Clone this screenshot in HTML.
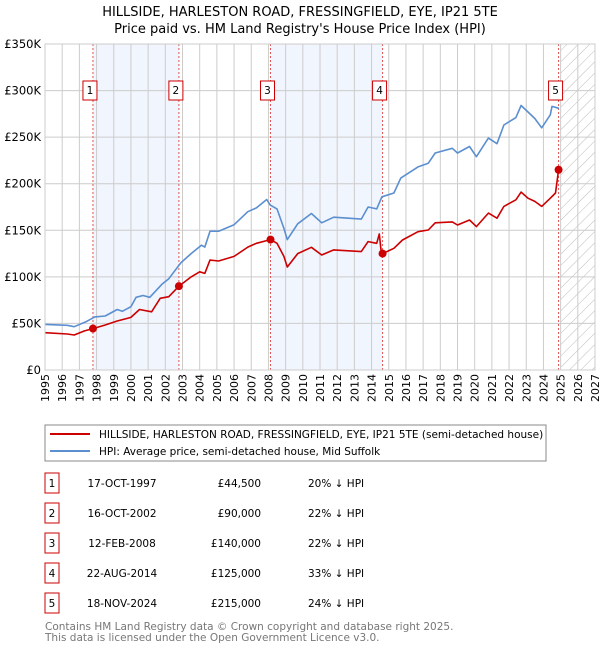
<!DOCTYPE html>
<html><head><meta charset="utf-8"><style>
body{margin:0;background:#fff;}
svg text{font-family:"DejaVu Sans","Liberation Sans",sans-serif;}
</style></head><body>
<svg id="c" width="600" height="650" xmlns="http://www.w3.org/2000/svg">
<defs><pattern id="hatch" width="8" height="8" patternUnits="userSpaceOnUse" patternTransform="rotate(45)"><line x1="0" y1="0" x2="0" y2="8" stroke="#bbb" stroke-width="1"/></pattern></defs>
<text x="300" y="16" text-anchor="middle" font-size="13">HILLSIDE, HARLESTON ROAD, FRESSINGFIELD, EYE, IP21 5TE</text>
<text x="300" y="33" text-anchor="middle" font-size="13">Price paid vs. HM Land Registry's House Price Index (HPI)</text>
<g id="plot"></g>
<g>
<rect x="45" y="425" width="501" height="36" fill="#fff" stroke="#888"/>
<line x1="50" y1="434" x2="90" y2="434" stroke="#cc0000" stroke-width="2"/>
<text x="99" y="438" font-size="10.5">HILLSIDE, HARLESTON ROAD, FRESSINGFIELD, EYE, IP21 5TE (semi-detached house)</text>
<line x1="50" y1="451" x2="90" y2="451" stroke="#5b8fd0" stroke-width="2"/>
<text x="99" y="455" font-size="10.5">HPI: Average price, semi-detached house, Mid Suffolk</text>
</g>
<g id="table"></g>
<text x="45" y="630" font-size="10.5" fill="#777">Contains HM Land Registry data © Crown copyright and database right 2025.</text>
<text x="45" y="641" font-size="10.5" fill="#777">This data is licensed under the Open Government Licence v3.0.</text>
</svg>
<script>
const hpiYears=[1995,1996.3,1996.7,1997.4,1997.9,1998.5,1999.2,1999.5,2000,2000.3,2000.7,2001.1,2001.8,2002.2,2002.9,2003.5,2004.1,2004.3,2004.6,2005.1,2006,2006.8,2007.3,2007.9,2008.1,2008.5,2008.9,2009.1,2009.7,2010.5,2011.1,2011.8,2013.4,2013.8,2014.3,2014.6,2015.3,2015.7,2016.7,2017.3,2017.7,2018.7,2019,2019.7,2020.1,2020.8,2021.3,2021.7,2022.4,2022.7,2023.1,2023.5,2023.9,2024.4,2024.5,2024.9];
const hpiValues=[49,48,46.5,52,57,58,65,63,68,78,80,78,92,98,115,125,134,132,149,149,156,170,174,183,177,173,152,140,157,168,158,164,162,175,173,186,190,206,218,222,233,238,233,240,229,249,243,263,271,284,277,270,260,274,283,281];
const priceYears=[1995,1996.3,1996.7,1997.3,1997.79,1998.5,1999.2,2000,2000.5,2001.2,2001.7,2002.2,2002.79,2003.5,2004,2004.3,2004.6,2005.1,2006,2006.8,2007.3,2008.12,2008.5,2008.9,2009.1,2009.7,2010.5,2011.1,2011.8,2013.4,2013.8,2014.3,2014.45,2014.55,2014.64,2015.3,2015.8,2016.7,2017.3,2017.7,2018.7,2019,2019.7,2020.1,2020.8,2021.3,2021.7,2022.4,2022.7,2023.1,2023.5,2023.9,2024.4,2024.7,2024.88];
const priceValues=[40,38.6,37.6,42,44.5,48.3,52.6,56.5,65,62.5,77,78.7,90,100,105.4,103.7,118,117,122,132,136,140,136,122,110.6,125,131.7,123.5,128.9,127.1,137.8,136,146,128.9,125,130.7,139.6,148.5,150.3,158,159,155.7,161,154,168.5,163,175.6,182.7,191,184.5,181,175.6,184.5,190,215];
const saleYears=[1997.79,2002.79,2008.12,2014.64,2024.88];
const saleLabels=["1","2","3","4","5"];
const saleDates=["17-OCT-1997","16-OCT-2002","12-FEB-2008","22-AUG-2014","18-NOV-2024"];
const salePrices=["£44,500","£90,000","£140,000","£125,000","£215,000"];
const salePrices_k=[44.5,90,140,125,215];
const saleDiffs=["20% ↓ HPI","22% ↓ HPI","22% ↓ HPI","33% ↓ HPI","24% ↓ HPI"];
const yTicks=[0,50,100,150,200,250,300,350];
const yTickLabels=["£0","£50K","£100K","£150K","£200K","£250K","£300K","£350K"];
const xStart=1995,xEnd=2027;

const NS="http://www.w3.org/2000/svg";
const L=45,R=595,T=44,B=370;
const xs=y=>L+(y-xStart)/(xEnd-xStart)*(R-L);
const ys=v=>B-v/350*(B-T);
const g=document.getElementById('plot');
function mk(tag,attrs,parent){const e=document.createElementNS(NS,tag);for(const k in attrs)e.setAttribute(k,attrs[k]);(parent||g).appendChild(e);return e;}
for(const [a,b] of [[0,1],[2,3]]){
 const r=mk('rect',{x:xs(saleYears[a]),y:T,width:xs(saleYears[b])-xs(saleYears[a]),height:B-T,fill:'#eef3fc',opacity:0.8});
 
 
}
const hz=mk('rect',{x:xs(2025),y:T,width:R-xs(2025),height:B-T,fill:'url(#hatch)'});


for(let yr=xStart;yr<=xEnd;yr++){
 const l=mk('line',{x1:xs(yr),x2:xs(yr),y1:T,y2:B,stroke:'#ccc','stroke-width':1});
 
 
 const t=mk('text',{x:0,y:0,'font-size':11,'text-anchor':'end',transform:`translate(${xs(yr)+4},${B+4}) rotate(-90)`});
 t.textContent=String(yr);
 
 
}
yTicks.forEach((v,i)=>{
 const l=mk('line',{x1:L,x2:R,y1:ys(v),y2:ys(v),stroke:'#ccc','stroke-width':1});
 
 
 const t=mk('text',{x:L-4,y:ys(v)+4,'font-size':11.5,'text-anchor':'end'});
 t.textContent=yTickLabels[i];
 
 
});
saleYears.forEach((s,i)=>{
 const l=mk('line',{x1:xs(s),x2:xs(s),y1:T,y2:B,stroke:'#e05555','stroke-width':1,'stroke-dasharray':'2,2'});
 
 
});
function path(xa,va,col,name){
 const d=xa.map((x,i)=>(i?'L':'M')+xs(x).toFixed(1)+','+ys(va[i]).toFixed(1)).join('');
 const p=mk('path',{d,fill:'none',stroke:col,'stroke-width':1.6,'stroke-linejoin':'round'});
 
 
}
path(hpiYears,hpiValues,'#5b8fd0','hpi-line');
path(priceYears,priceValues,'#cc0000','price-line');
saleYears.forEach((s,i)=>{
 const c=mk('circle',{cx:xs(s),cy:ys(salePrices_k[i]),r:4,fill:'#cc0000'});
 
 
 const bx=xs(s)-10;
 const r=mk('rect',{x:bx,y:81,width:14,height:19,fill:'#fff',stroke:'#cc0000'});
 
 
 const t=mk('text',{x:bx+7,y:94,'font-size':10.5,'text-anchor':'middle'});
 t.textContent=saleLabels[i];
 
 
});
mk('rect',{x:L,y:T,width:R-L,height:B-T,fill:'none',stroke:'#ccc'});
const tb=document.getElementById('table');
saleLabels.forEach((lab,i)=>{
 const cy=483+i*30;
 const r=mk('rect',{x:45,y:cy-10,width:14,height:20,fill:'#fff',stroke:'#cc0000'},tb);
 
 
 const a=mk('text',{x:52,y:cy+4,'font-size':10.5,'text-anchor':'middle'},tb);a.textContent=lab;
 
 
 const d=mk('text',{x:122,y:cy+4,'font-size':10.5,'text-anchor':'middle'},tb);d.textContent=saleDates[i];
 
 
 const p=mk('text',{x:261,y:cy+4,'font-size':10.5,'text-anchor':'end'},tb);p.textContent=salePrices[i];
 
 
 const h=mk('text',{x:308,y:cy+4,'font-size':10.5},tb);h.textContent=saleDiffs[i];
 
 
});
</script>
</body></html>
